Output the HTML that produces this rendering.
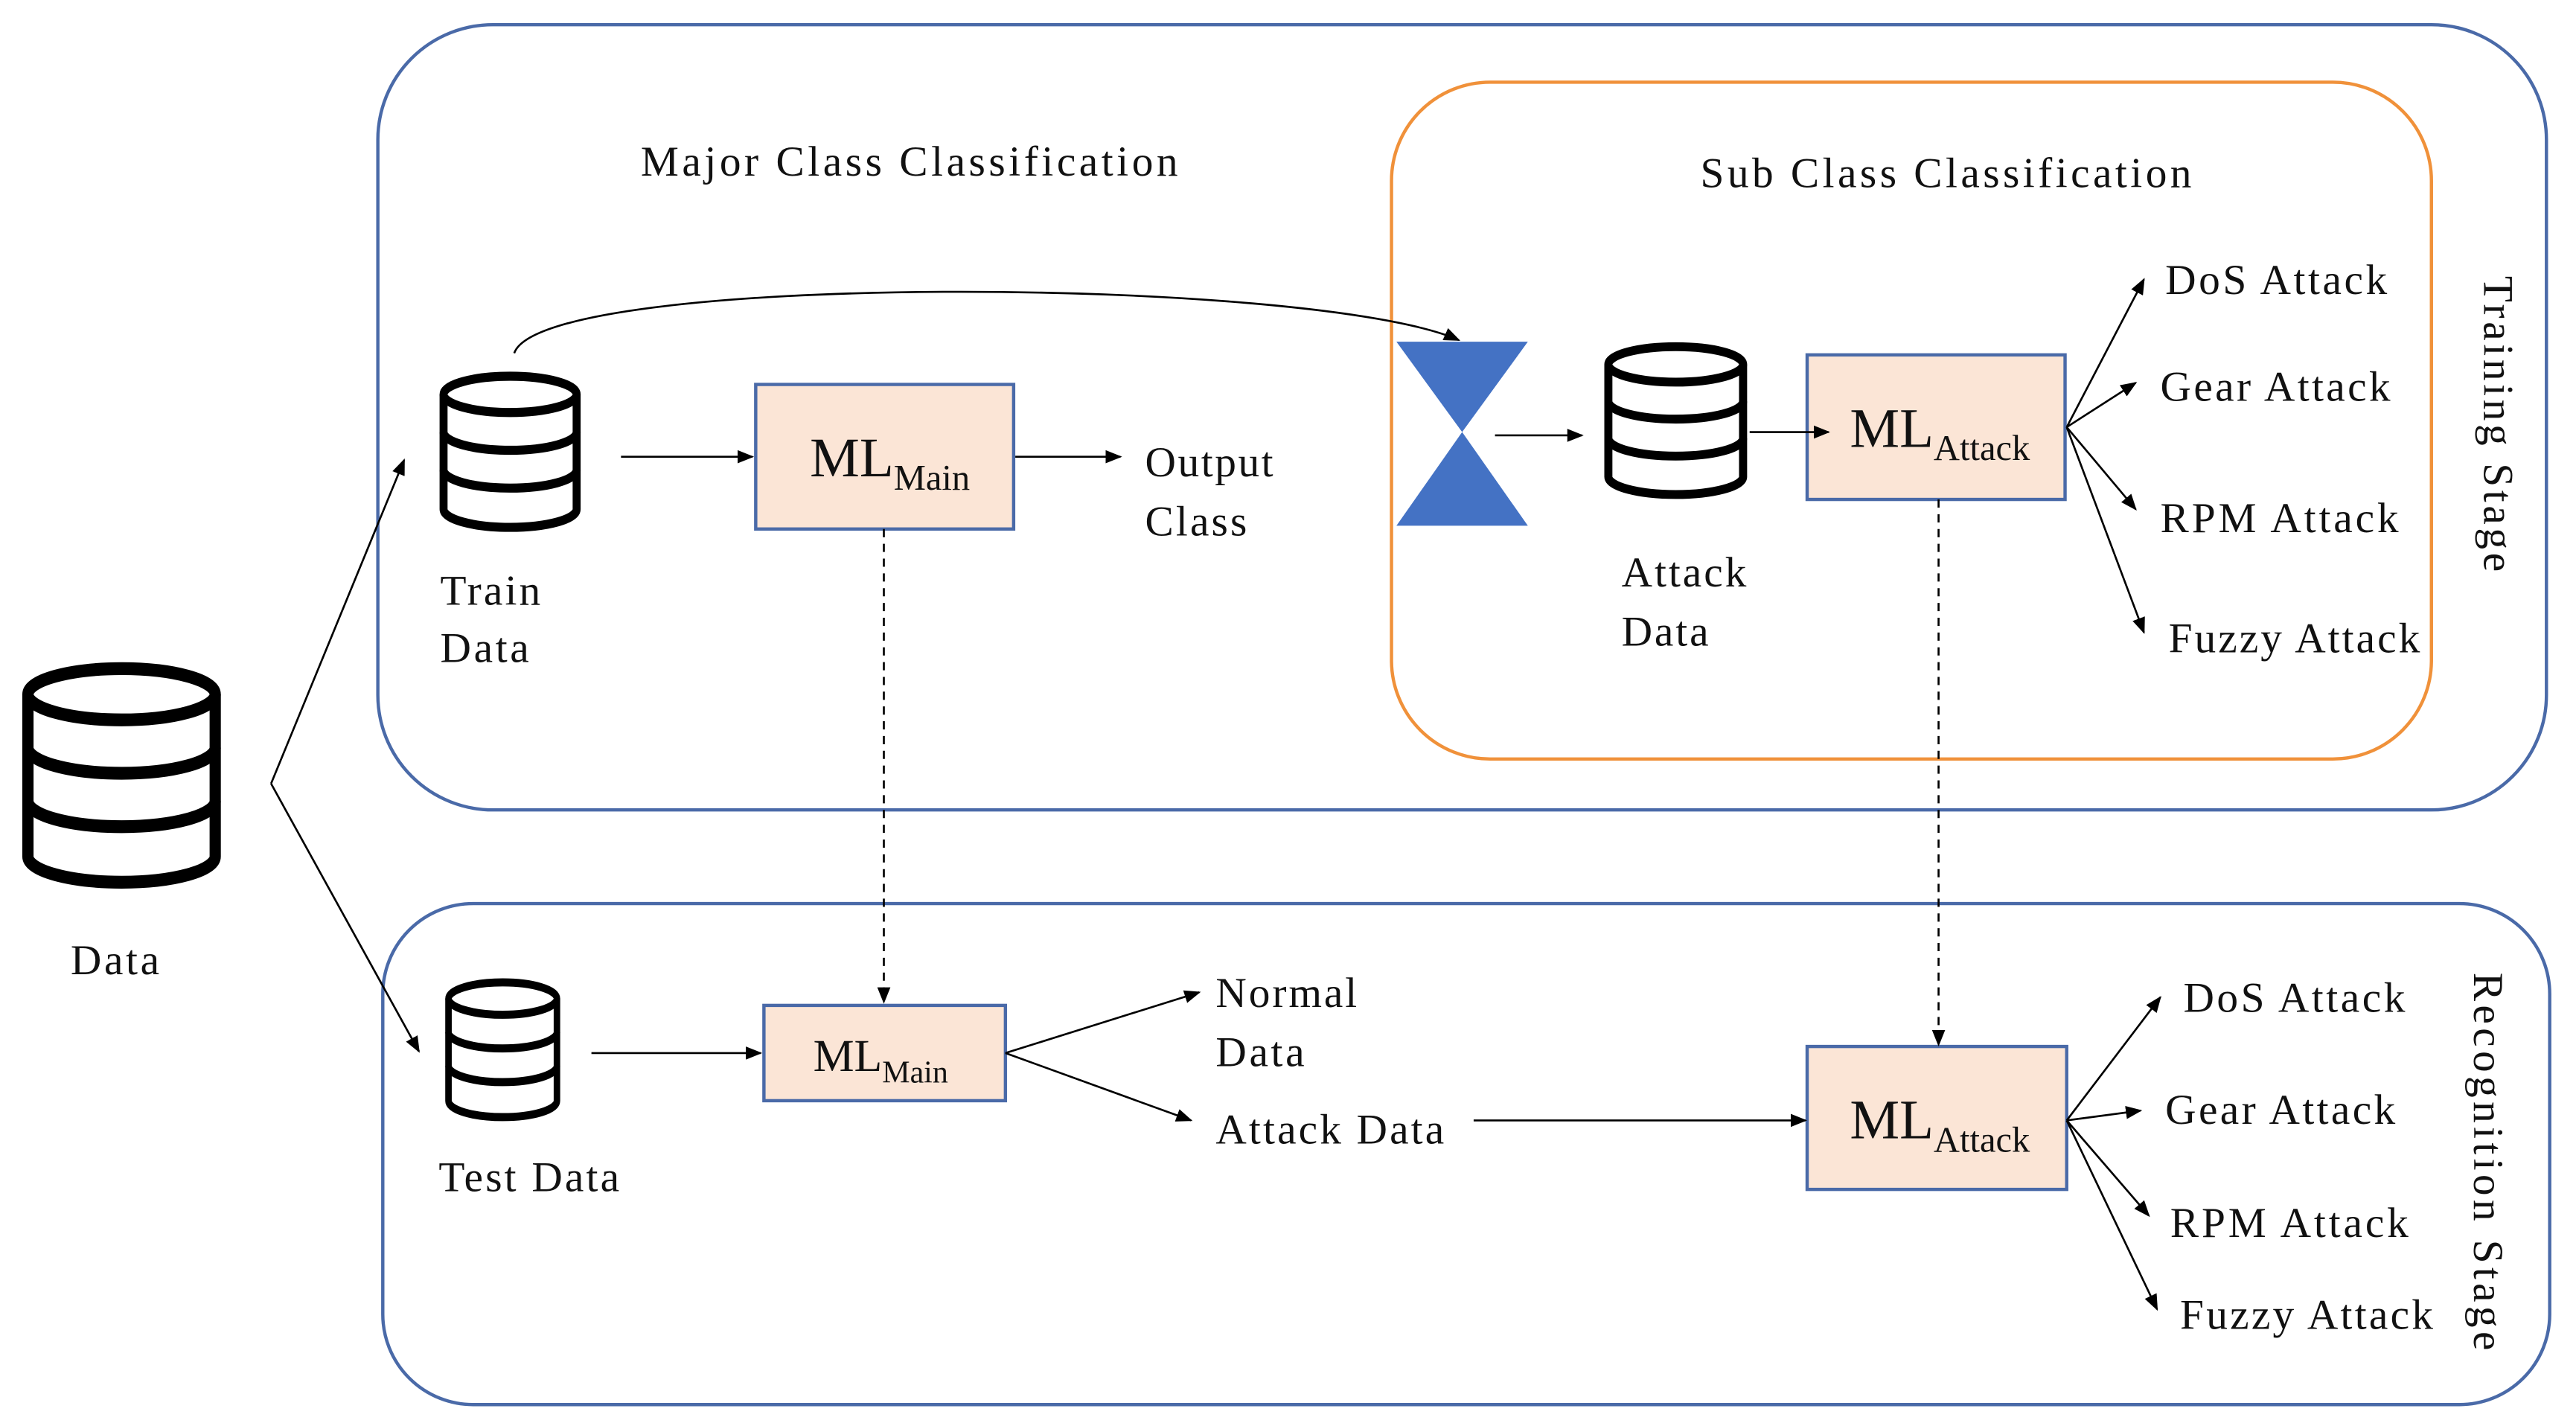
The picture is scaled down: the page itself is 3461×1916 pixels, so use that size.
<!DOCTYPE html>
<html><head><meta charset="utf-8"><style>
html,body{margin:0;padding:0;background:#fff;}
svg{display:block;}
text{font-family:"Liberation Serif",serif;fill:#111;}
</style></head><body>
<svg width="3461" height="1916" viewBox="0 0 1568 868" xmlns="http://www.w3.org/2000/svg">
<defs>
<marker id="a" markerWidth="10" markerHeight="8" refX="9" refY="4" orient="auto" markerUnits="userSpaceOnUse"><path d="M0,0 L10,4 L0,8 z" fill="#000"/></marker>
<g id="db">
<path d="M0,12 L0,88 A50,12 0 0 0 100,88 L100,12" fill="#fff" stroke="#000" stroke-width="6"/>
<ellipse cx="50" cy="12" rx="50" ry="12" fill="#fff" stroke="#000" stroke-width="6"/>
<path d="M0,37 A50,12 0 0 0 100,37 M0,62 A50,12 0 0 0 100,62" fill="none" stroke="#000" stroke-width="6"/>
</g>
</defs>
<rect x="230" y="15" width="1320" height="478" rx="70" fill="none" stroke="#4a6aa8" stroke-width="2"/>
<rect x="847" y="50" width="633" height="412" rx="60" fill="none" stroke="#f0913a" stroke-width="2"/>
<rect x="233" y="550" width="1319" height="305" rx="55" fill="none" stroke="#4a6aa8" stroke-width="2"/>

<use href="#db" transform="translate(17,407) scale(1.14,1.3)"/>
<use href="#db" transform="translate(270,229) scale(0.81,0.92)"/>
<use href="#db" transform="translate(979,211) scale(0.82,0.9)"/>
<use href="#db" transform="translate(273,598) scale(0.66,0.82)"/>

<polygon points="850,208 930,208 890,263" fill="#4472c4"/>
<polygon points="890,263 850,320 930,320" fill="#4472c4"/>

<g fill="#fbe5d6" stroke="#4a6aa8" stroke-width="2">
<rect x="460" y="234" width="157" height="88"/>
<rect x="1100" y="216" width="157" height="88"/>
<rect x="465" y="612" width="147" height="58"/>
<rect x="1100" y="637" width="158" height="87"/>
</g>

<g stroke="#000" stroke-width="1.2" fill="none" marker-end="url(#a)">
<line x1="165" y1="477" x2="246" y2="280"/>
<line x1="165" y1="477" x2="255" y2="640"/>
<line x1="378" y1="278" x2="458" y2="278"/>
<line x1="618" y1="278" x2="682" y2="278"/>
<path d="M313,215 C330,165 800,168 888,207"/>
<line x1="910" y1="265" x2="963" y2="265"/>
<line x1="1065" y1="263" x2="1113" y2="263"/>
<line x1="1258" y1="260" x2="1305" y2="170"/>
<line x1="1258" y1="260" x2="1300" y2="233"/>
<line x1="1258" y1="260" x2="1300" y2="310"/>
<line x1="1258" y1="260" x2="1305" y2="385"/>
<line x1="538" y1="322" x2="538" y2="610" stroke-dasharray="5,4"/>
<line x1="1180" y1="304" x2="1180" y2="636" stroke-dasharray="5,4"/>
<line x1="360" y1="641" x2="463" y2="641"/>
<line x1="612" y1="641" x2="730" y2="604"/>
<line x1="612" y1="641" x2="725" y2="682"/>
<line x1="897" y1="682" x2="1099" y2="682"/>
<line x1="1258" y1="682" x2="1315" y2="607"/>
<line x1="1258" y1="682" x2="1303" y2="676"/>
<line x1="1258" y1="682" x2="1308" y2="740"/>
<line x1="1258" y1="682" x2="1313" y2="797"/>
</g>

<g font-size="26" lengthAdjust="spacing">
<text x="390" y="107" textLength="327">Major Class Classification</text>
<text x="1035" y="114" textLength="299">Sub Class Classification</text>
<text x="268" y="368" textLength="61">Train</text><text x="268" y="403" textLength="54">Data</text>
<text x="697" y="290" textLength="78">Output</text><text x="697" y="326" textLength="62">Class</text>
<text x="987" y="357" textLength="76">Attack</text><text x="987" y="393" textLength="53">Data</text>
<text x="1318" y="179" textLength="135">DoS Attack</text>
<text x="1315" y="244" textLength="140">Gear Attack</text>
<text x="1315" y="324" textLength="145">RPM Attack</text>
<text x="1320" y="397" textLength="153">Fuzzy Attack</text>
<text x="43" y="593" textLength="54">Data</text>
<text x="267" y="725" textLength="110">Test Data</text>
<text x="740" y="613" textLength="86">Normal</text><text x="740" y="649" textLength="54">Data</text>
<text x="740" y="696" textLength="139">Attack Data</text>
<text x="1329" y="616" textLength="135">DoS Attack</text>
<text x="1318" y="684" textLength="140">Gear Attack</text>
<text x="1321" y="753" textLength="145">RPM Attack</text>
<text x="1327" y="809" textLength="154">Fuzzy Attack</text>
<text transform="translate(1512,168) rotate(90)" textLength="180">Training Stage</text>
<text transform="translate(1506,592) rotate(90)" textLength="230">Recognition  Stage</text>
</g>
<text x="493" y="290" font-size="34">ML<tspan font-size="22" dy="8">Main</tspan></text>
<text x="1126" y="272" font-size="34">ML<tspan font-size="22" dy="8">Attack</tspan></text>
<text x="495" y="652" font-size="28">ML<tspan font-size="19" dy="7">Main</tspan></text>
<text x="1126" y="693" font-size="34">ML<tspan font-size="22" dy="8">Attack</tspan></text>
</svg>
</body></html>
